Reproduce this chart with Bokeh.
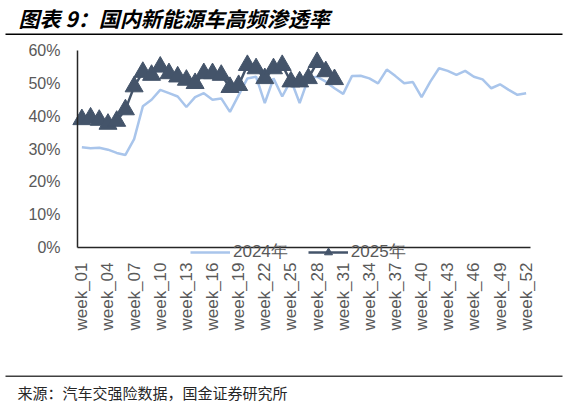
import math
from bokeh.plotting import figure
from bokeh.models import (FixedTicker, PrintfTickFormatter, Label, BoxAnnotation,
                          Legend, LegendItem, Range1d)
from bokeh.embed import file_html
from bokeh.resources import INLINE

# week index and labels
week_no = list(range(1, 53))
week_labels = {i: "week_%02d" % i for i in week_no}
shown_weeks = week_no[::3]

# NEV penetration, %
share_2024 = [30.5, 30.2, 30.4, 29.8, 28.8, 28.2, 33.0, 43.0, 45.0, 48.0,
              47.0, 46.0, 42.8, 45.8, 47.0, 45.0, 45.4, 41.3, 46.4, 51.5,
              52.0, 44.0, 51.5, 46.0, 51.0, 44.0, 51.5, 52.0, 50.5, 48.5,
              46.8, 52.2, 52.3, 51.5, 50.0, 54.2, 52.2, 50.0, 50.4, 45.8,
              50.5, 54.6, 53.8, 52.6, 53.8, 52.0, 51.2, 48.5, 49.7, 48.0,
              46.5, 47.0]
share_2025 = [39.0, 39.5, 38.8, 37.6, 38.5, 42.0, 49.0, 53.4, 52.5, 55.0,
              53.0, 52.0, 51.0, 50.0, 53.0, 53.0, 52.5, 48.8, 49.4, 55.5,
              54.5, 51.5, 54.5, 55.5, 50.5, 50.5, 51.5, 56.4, 53.6, 51.2]

title_text = "图表 9：国内新能源车高频渗透率"
source_text = "来源：汽车交强险数据，国金证券研究所"

c24 = "#A9C5EB"
c25 = "#44546A"
grey = "#595959"

W, H = 567, 405
# plot box in page pixels: left, right, top (60%), bottom (0%)
px_l, px_r, px_t, px_b = 77, 530, 50, 247
x0, x1 = 0.5, 52.5
y0, y1 = 0, 60
kx = (px_r - px_l) / (x1 - x0)
ky = (px_b - px_t) / (y1 - y0)

# the frame fills the whole canvas; axes are pinned at the data origin
p = figure(width=W, height=H, output_backend="svg", toolbar_location=None, title=None,
           x_range=Range1d(x0 - px_l / kx, x1 + (W - px_r) / kx),
           y_range=Range1d(y0 - (H - px_b) / ky, y1 + px_t / ky),
           min_border=0)
p.outline_line_color = None
p.xgrid.grid_line_color = None
p.ygrid.grid_line_color = None

r24 = p.line(week_no, share_2024, line_color=c24, line_width=2.5)
r25l = p.line(week_no[:len(share_2025)], share_2025, line_color=c25, line_width=2.5)
r25s = p.scatter(week_no[:len(share_2025)], share_2025, marker="triangle", size=18,
                 fill_color=c25, line_color=c25)

p.xaxis.fixed_location = y0
p.yaxis.fixed_location = x0
p.xaxis.bounds = (x0, x1)
p.yaxis.bounds = (y0, y1)
p.xaxis.ticker = FixedTicker(ticks=shown_weeks)
p.xaxis.major_label_overrides = week_labels
p.xaxis.major_label_orientation = math.pi / 2
p.yaxis.ticker = FixedTicker(ticks=[0, 10, 20, 30, 40, 50, 60])
p.yaxis.formatter = PrintfTickFormatter(format="%d%%")
for ax in (p.xaxis, p.yaxis):
    ax.axis_line_color = "#262626"
    ax.axis_line_width = 1.5
    ax.major_tick_line_color = None
    ax.minor_tick_line_color = None
    ax.major_label_text_color = grey
    ax.major_label_text_font = "Liberation Sans"
p.xaxis.major_label_text_font_size = "17px"
p.xaxis.major_label_standoff = 9
p.yaxis.major_label_text_font_size = "16px"
p.yaxis.major_label_standoff = 11

legend = Legend(items=[LegendItem(label="2024年", renderers=[r24]),
                       LegendItem(label="2025年", renderers=[r25l, r25s])],
                orientation="horizontal", location=(190, H - 263),
                padding=0, margin=0, spacing=20, glyph_width=40, glyph_height=20,
                label_standoff=3, label_height=20,
                label_text_font="Liberation Sans", label_text_font_size="17px",
                label_text_color=grey, background_fill_alpha=0,
                border_line_color=None)
p.add_layout(legend)

# title, rules and source note (screen units, from the bottom-left corner)
p.add_layout(Label(x=18, y=H - 17, x_units="screen", y_units="screen", text=title_text,
                   text_baseline="middle", text_font="Noto Sans CJK SC",
                   text_font_size="21px", text_font_style="bold italic",
                   text_color="black"))
p.add_layout(BoxAnnotation(left=5, right=562, bottom=H - 34.5, top=H - 33,
                           left_units="screen", right_units="screen",
                           bottom_units="screen", top_units="screen",
                           fill_color="black", fill_alpha=1, line_color=None))
p.add_layout(BoxAnnotation(left=5, right=562, bottom=H - 376.5, top=H - 375,
                           left_units="screen", right_units="screen",
                           bottom_units="screen", top_units="screen",
                           fill_color="#404040", fill_alpha=1, line_color=None))
p.add_layout(Label(x=17, y=H - 392, x_units="screen", y_units="screen", text=source_text,
                   text_baseline="middle", text_font="Noto Sans CJK SC",
                   text_font_size="15px", text_color="#262626"))

open("out.html", "w").write(file_html(p, INLINE))
